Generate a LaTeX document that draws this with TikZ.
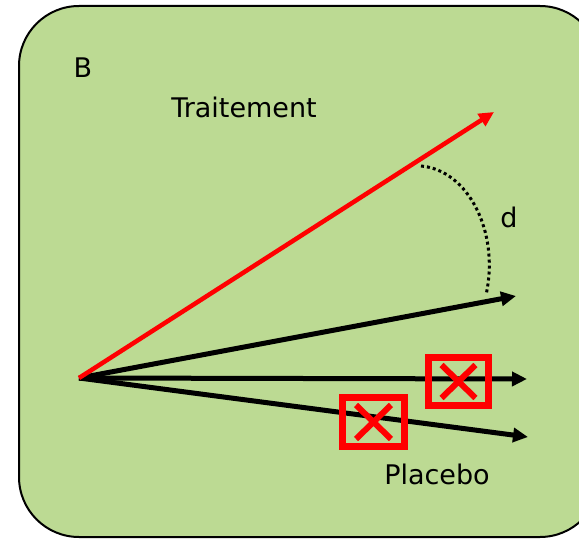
\documentclass[tikz,border=0pt]{standalone}
\usepackage{fontspec}
\setmainfont{DejaVu Sans}
\usetikzlibrary{arrows.meta}
\definecolor{bggreen}{RGB}{188,218,147}
\definecolor{xred}{RGB}{255,0,0}
\tikzset{
  vec/.style={line width=5pt,-{Triangle[length=15pt,width=14pt]}},
  redvec/.style={vec,line width=4.5pt,draw=xred,-{Triangle[length=15pt,width=14pt]}},
  xbox/.style={draw=xred,line width=7pt,minimum width=60pt,minimum height=48pt,inner sep=0pt},
  xcross/.style={draw=xred,line width=6pt},
  lbl/.style={font=\fontsize{27}{32}\selectfont,inner sep=0pt}
}
\begin{document}
\begin{tikzpicture}[x=1pt,y=-1pt]
\useasboundingbox (0,0) rectangle (579,540);
\clip (0,0) rectangle (579,540);
\draw[fill=bggreen,line width=2pt,rounded corners=60pt] (19,6) rectangle (600,537);
\node[lbl] (B) at (83,68) {B};
\node[lbl] (trt) at (244,107) {Traitement};
\node[lbl] (plc) at (437,474) {Placebo};
\node[lbl] (d) at (509,217) {d};
\coordinate (O) at (79,378);
\coordinate (tR) at (494,112);
\coordinate (t1) at (516,296);
\coordinate (t2) at (527,379);
\coordinate (t3) at (528,437);
\draw[vec] (O) -- (t1);
\draw[vec] (O) -- (t2);
\draw[vec] (O) -- (t3);
\draw[redvec] (O) -- (tR);
\coordinate (a1) at (421,166);
\coordinate (a2) at (486,295);
\draw[line width=3pt,dash pattern=on 3pt off 3pt] (a1) .. controls (468,170) and (500,232) .. (a2);
\node[xbox] (bx1) at (458.5,381.5) {};
\draw[xcross] ([shift={(-17,-16.5)}]bx1.center) -- ([shift={(17,16.5)}]bx1.center)
              ([shift={(-17,16.5)}]bx1.center) -- ([shift={(17,-16.5)}]bx1.center);
\node[xbox,minimum width=62pt,minimum height=49pt] (bx2) at (373.5,422) {};
\draw[xcross] ([shift={(-17.5,-17)}]bx2.center) -- ([shift={(17.5,17)}]bx2.center)
              ([shift={(-17.5,17)}]bx2.center) -- ([shift={(17.5,-17)}]bx2.center);
\end{tikzpicture}
\end{document}
